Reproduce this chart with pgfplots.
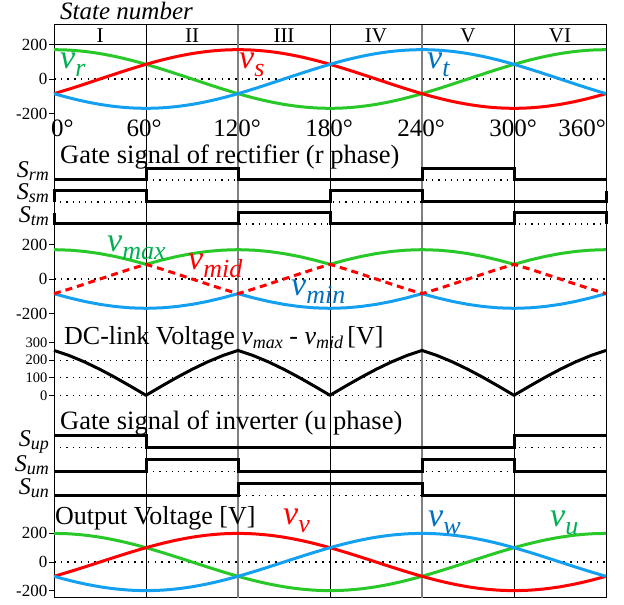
\documentclass[border=0pt]{standalone}
\usepackage{fontspec}
\setmainfont{Liberation Serif}
\usepackage{pgfplots}
\pgfplotsset{compat=1.18}
\usepackage{pgfplotstable}
\definecolor{lgreen}{RGB}{40,200,40}
\definecolor{lblue}{RGB}{20,160,240}
\definecolor{lred}{RGB}{255,0,0}
\definecolor{tgreen}{RGB}{0,176,80}
\definecolor{tblue}{RGB}{0,112,192}
\newcommand{\fs}[1]{\fontsize{#1}{#1}\selectfont}
% main size, letter, sub size, subscript, drop
\newcommand{\lab}[5]{{\fs{#1}\itshape #2\raisebox{-#5pt}{\fs{#3}\itshape #4}}}

% phase voltages (rectifier input), theta in degrees
\pgfplotstableread{
t a b c
0 170 -85 -85
10 167.4 -58.1 -109.3
20 159.7 -29.5 -130.2
30 147.2 0 -147.2
40 130.2 29.5 -159.7
50 109.3 58.1 -167.4
60 85 85 -170
70 58.1 109.3 -167.4
80 29.5 130.2 -159.7
90 0 147.2 -147.2
100 -29.5 159.7 -130.2
110 -58.1 167.4 -109.3
120 -85 170 -85
130 -109.3 167.4 -58.1
140 -130.2 159.7 -29.5
150 -147.2 147.2 0
160 -159.7 130.2 29.5
170 -167.4 109.3 58.1
180 -170 85 85
190 -167.4 58.1 109.3
200 -159.7 29.5 130.2
210 -147.2 0 147.2
220 -130.2 -29.5 159.7
230 -109.3 -58.1 167.4
240 -85 -85 170
250 -58.1 -109.3 167.4
260 -29.5 -130.2 159.7
270 0 -147.2 147.2
280 29.5 -159.7 130.2
290 58.1 -167.4 109.3
300 85 -170 85
310 109.3 -167.4 58.1
320 130.2 -159.7 29.5
330 147.2 -147.2 0
340 159.7 -130.2 -29.5
350 167.4 -109.3 -58.1
360 170 -85 -85
}\tabA

% max / mid / min and DC link
\pgfplotstableread{
t mx md mn dc
0 170 -85 -85 255
10 167.4 -58.1 -109.3 225.5
20 159.7 -29.5 -130.2 189.2
30 147.2 0 -147.2 147.2
40 130.2 29.5 -159.7 100.7
50 109.3 58.1 -167.4 51.2
60 85 85 -170 0
70 109.3 58.1 -167.4 51.2
80 130.2 29.5 -159.7 100.7
90 147.2 0 -147.2 147.2
100 159.7 -29.5 -130.2 189.2
110 167.4 -58.1 -109.3 225.5
120 170 -85 -85 255
130 167.4 -58.1 -109.3 225.5
140 159.7 -29.5 -130.2 189.2
150 147.2 0 -147.2 147.2
160 130.2 29.5 -159.7 100.7
170 109.3 58.1 -167.4 51.2
180 85 85 -170 0
190 109.3 58.1 -167.4 51.2
200 130.2 29.5 -159.7 100.7
210 147.2 0 -147.2 147.2
220 159.7 -29.5 -130.2 189.2
230 167.4 -58.1 -109.3 225.5
240 170 -85 -85 255
250 167.4 -58.1 -109.3 225.5
260 159.7 -29.5 -130.2 189.2
270 147.2 0 -147.2 147.2
280 130.2 29.5 -159.7 100.7
290 109.3 58.1 -167.4 51.2
300 85 85 -170 0
310 109.3 58.1 -167.4 51.2
320 130.2 29.5 -159.7 100.7
330 147.2 0 -147.2 147.2
340 159.7 -29.5 -130.2 189.2
350 167.4 -58.1 -109.3 225.5
360 170 -85 -85 255
}\tabB

% output voltages
\pgfplotstableread{
t u v w
0 200 -100 -100
10 197.0 -68.4 -128.6
20 187.9 -34.7 -153.2
30 173.2 0 -173.2
40 153.2 34.7 -187.9
50 128.6 68.4 -197.0
60 100 100 -200
70 68.4 128.6 -197.0
80 34.7 153.2 -187.9
90 0 173.2 -173.2
100 -34.7 187.9 -153.2
110 -68.4 197.0 -128.6
120 -100 200 -100
130 -128.6 197.0 -68.4
140 -153.2 187.9 -34.7
150 -173.2 173.2 0
160 -187.9 153.2 34.7
170 -197.0 128.6 68.4
180 -200 100 100
190 -197.0 68.4 128.6
200 -187.9 34.7 153.2
210 -173.2 0 173.2
220 -153.2 -34.7 187.9
230 -128.6 -68.4 197.0
240 -100 -100 200
250 -68.4 -128.6 197.0
260 -34.7 -153.2 187.9
270 0 -173.2 173.2
280 34.7 -187.9 153.2
290 68.4 -197.0 128.6
300 100 -200 100
310 128.6 -197.0 68.4
320 153.2 -187.9 34.7
330 173.2 -173.2 0
340 187.9 -153.2 -34.7
350 197.0 -128.6 -68.4
360 200 -100 -100
}\tabC

\pgfplotsset{
  panel/.style={anchor=south west, scale only axis, width=552pt, xmin=0, xmax=360,
    clip=false, hide x axis, axis y line*=left, y axis line style={draw=none},
    tick align=outside, major tick length=5pt, ytick style={black,line width=0.8pt},
    yticklabel style={font=\fs{17}, inner sep=1.5pt}},
  gate/.style={anchor=south west, scale only axis, width=552pt, xmin=0, xmax=360,
    clip=false, hide axis},
  curve/.style={line width=3pt, no marks, line join=round},
  sig/.style={black, line width=3pt, no marks, line join=miter},
  zero/.style={black, line width=1.6pt, dash pattern=on 1.6pt off 5.1pt, no marks},
  base/.style={black, line width=1.1pt, dash pattern=on 1.1pt off 5.1pt, no marks},
}

\begin{document}
\begin{tikzpicture}
\path[use as bounding box] (0pt,0pt) rectangle (624pt,605pt);

% frame with grid lines
\begin{axis}[anchor=south west, at={(54pt,7pt)}, scale only axis, width=552pt, height=573pt,
  xmin=0, xmax=360, ymin=0, ymax=573, xtick=\empty, ytick=\empty,
  axis line style={line width=1pt}, clip=false]
\addplot[black, line width=0.8pt, no marks] coordinates {(0,554) (360,554)};
\addplot[black, line width=0.8pt, no marks] coordinates {(60,0) (60,573)};
\addplot[gray, line width=1.2pt, no marks] coordinates {(120,0) (120,573)};
\addplot[black, line width=0.8pt, no marks] coordinates {(180,0) (180,573)};
\addplot[gray, line width=1.2pt, no marks] coordinates {(240,0) (240,573)};
\addplot[black, line width=0.8pt, no marks] coordinates {(300,0) (300,573)};
\end{axis}

% panel 1: phase voltages
\begin{axis}[panel, at={(54pt,487pt)}, height=74pt, ymin=-226.1, ymax=202.9,
  ytick={-200,0,200}, yticklabels={-200,0,200}]
\addplot[zero] coordinates {(0,0) (360,0)};
\addplot[lgreen, curve, smooth] table[x=t, y=a] {\tabA};
\addplot[lred, curve, smooth] table[x=t, y=b] {\tabA};
\addplot[lblue, curve, smooth] table[x=t, y=c] {\tabA};
\end{axis}

% panel 2: rectifier gate signals
\begin{axis}[gate, at={(54pt,377pt)}, height=65pt, ymin=-0.364, ymax=5.545]
\addplot[base] coordinates {(0,4) (360,4)};
\addplot[base] coordinates {(0,2) (360,2)};
\addplot[base] coordinates {(0,0) (360,0)};
\addplot[sig] coordinates {(0,4) (60,4) (60,5) (120,5) (120,4) (240,4) (240,5) (300,5) (300,4) (360,4)};
\addplot[sig] coordinates {(0,2) (0,3) (60,3) (60,2) (180,2) (180,3) (240,3) (240,2) (360,2) (360,3)};
\addplot[sig] coordinates {(0,1) (0,0) (120,0) (120,1) (180,1) (180,0) (300,0) (300,1) (360,1) (360,0)};
\end{axis}

% panel 3: max mid min
\begin{axis}[panel, at={(54pt,287pt)}, height=88pt, ymin=-226.1, ymax=284.1,
  ytick={-200,0,200}, yticklabels={-200,0,200}]
\addplot[zero] coordinates {(0,0) (360,0)};
\addplot[lgreen, curve] table[x=t, y=mx] {\tabB};
\addplot[lblue, curve] table[x=t, y=mn] {\tabB};
\addplot[lred, curve, dash pattern=on 7pt off 5pt] table[x=t, y=md] {\tabB};
\end{axis}

% panel 4: DC link
\begin{axis}[panel, at={(54pt,200pt)}, height=75pt, ymin=-55.1, ymax=371,
  ytick={0,100,200,300}, yticklabels={0,100,200,300},
  yticklabel style={font=\fs{14.5}, inner sep=1.5pt}]
\addplot[base] coordinates {(0,0) (360,0)};
\addplot[base] coordinates {(0,100) (360,100)};
\addplot[base] coordinates {(0,200) (360,200)};
\addplot[black, curve] table[x=t, y=dc] {\tabB};
\end{axis}

% panel 5: inverter gate signals
\begin{axis}[gate, at={(54pt,105pt)}, height=68pt, ymin=-0.358, ymax=5.308]
\addplot[base] coordinates {(0,4) (360,4)};
\addplot[base] coordinates {(0,2) (360,2)};
\addplot[base] coordinates {(0,0) (360,0)};
\addplot[sig] coordinates {(0,5) (60,5) (60,4) (300,4) (300,5) (360,5)};
\addplot[sig] coordinates {(0,2) (60,2) (60,3) (120,3) (120,2) (240,2) (240,3) (300,3) (300,2) (360,2)};
\addplot[sig] coordinates {(0,0) (120,0) (120,1) (240,1) (240,0) (360,0)};
\end{axis}

% panel 6: output voltages
\begin{axis}[panel, at={(54pt,7pt)}, height=98pt, ymin=-251.7, ymax=433.6,
  ytick={-200,0,200}, yticklabels={-200,0,200}]
\addplot[zero] coordinates {(0,0) (360,0)};
\addplot[lgreen, curve, smooth] table[x=t, y=u] {\tabC};
\addplot[lred, curve, smooth] table[x=t, y=v] {\tabC};
\addplot[lblue, curve, smooth] table[x=t, y=w] {\tabC};
\end{axis}

% texts
\node[anchor=base west, inner sep=0pt, font=\fs{25}\itshape] at (60pt,585pt) {State number};
\foreach \x/\r in {100/I, 192/II, 284/III, 376/IV, 468/V, 560/VI}
  \node[anchor=base, inner sep=0pt, font=\fs{21}] at (\x pt,562.5pt) {\r};
\node[anchor=base west, inner sep=0pt, font=\fs{25}] at (51pt,468.5pt) {0°};
\foreach \x/\d in {144/60, 237/120, 329/180, 421/240, 513/300}
  \node[anchor=base, inner sep=0pt, font=\fs{25}] at (\x pt,468.5pt) {\d°};
\node[anchor=base east, inner sep=0pt, font=\fs{25}] at (606pt,468.5pt) {360°};

\node[anchor=base west, inner sep=0pt, text=tgreen] at (60pt,536.7pt) {\lab{34}{v}{26}{r}{8}};
\node[anchor=base west, inner sep=0pt, text=lred] at (239pt,536.7pt) {\lab{34}{v}{26}{s}{8}};
\node[anchor=base west, inner sep=0pt, text=tblue] at (427pt,536.7pt) {\lab{34}{v}{26}{t}{8}};

\node[anchor=base west, inner sep=0pt, font=\fs{26.5}] at (60pt,441.7pt) {Gate signal of rectifier (r phase)};
\node[anchor=base east, inner sep=0pt] at (49pt,427pt) {\lab{24}{S}{18}{rm}{3}};
\node[anchor=base east, inner sep=0pt] at (49pt,405pt) {\lab{24}{S}{18}{sm}{3}};
\node[anchor=base east, inner sep=0pt] at (49pt,382pt) {\lab{24}{S}{18}{tm}{3}};

\node[anchor=base west, inner sep=0pt, text=tgreen] at (107pt,353.3pt) {\lab{34}{v}{26}{max}{8}};
\node[anchor=base west, inner sep=0pt, text=lred] at (188pt,335pt) {\lab{34}{v}{26}{mid}{8}};
\node[anchor=base west, inner sep=0pt, text=tblue] at (291pt,309pt) {\lab{34}{v}{26}{min}{8}};

\node[anchor=base west, inner sep=0pt, font=\fs{26}] at (64pt,260pt)
  {DC-link Voltage \lab{26}{v}{18}{max}{4} - \lab{26}{v}{18}{mid}{4}\,[V]};

\node[anchor=base west, inner sep=0pt, font=\fs{26.5}] at (60pt,175pt) {Gate signal of inverter (u phase)};
\node[anchor=base east, inner sep=0pt] at (49pt,158.3pt) {\lab{24}{S}{18}{up}{3}};
\node[anchor=base east, inner sep=0pt] at (49pt,133.7pt) {\lab{24}{S}{18}{um}{3}};
\node[anchor=base east, inner sep=0pt] at (49pt,110.3pt) {\lab{24}{S}{18}{un}{3}};

\node[anchor=base west, inner sep=0pt, font=\fs{26}] at (55pt,80pt) {Output Voltage [V]};
\node[anchor=base west, inner sep=0pt, text=lred] at (283pt,80pt) {\lab{34}{v}{26}{v}{8}};
\node[anchor=base west, inner sep=0pt, text=tblue] at (428pt,78pt) {\lab{34}{v}{26}{w}{8}};
\node[anchor=base west, inner sep=0pt, text=tgreen] at (550pt,78pt) {\lab{34}{v}{26}{u}{8}};
\end{tikzpicture}
\end{document}
